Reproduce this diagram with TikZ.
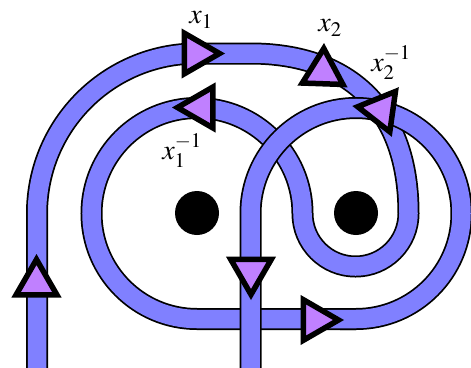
\documentclass[tikz,border=0pt]{standalone}
\usepackage{mathptmx}
\usetikzlibrary{shapes.geometric}
\definecolor{bandblue}{RGB}{128,128,255}
\definecolor{trifill}{RGB}{192,128,255}
\begin{document}
\begin{tikzpicture}[x=1pt,y=-1pt,
  band/.style={draw=black,line width=1.75pt,double=bandblue,double distance=18.5pt},
  tri/.style={regular polygon,regular polygon sides=3,draw=black,fill=trifill,line width=5.5pt,minimum size=47pt,inner sep=0pt,outer sep=0pt,miter limit=10},
  lab/.style={font=\fontsize{28}{30}\selectfont,inner sep=0pt},
  dot/.style={circle,fill=black,minimum size=44pt,inner sep=0pt}]
\useasboundingbox (0,0) rectangle (471,367);
% first part of the band: outer arc, x2 curve, U, left circle, bottom line
\draw[band] (37,372) -- (37,213.5) arc[start angle=180,end angle=270,radius=160]
  -- (250,53.5) .. controls (350,53.5) and (408.5,110) .. (408.5,213.5)
  arc[start angle=0,end angle=180,radius=53]
  arc[start angle=360,end angle=90,radius=105.5] -- (356,319);
% second part: right circle and vertical down (overlaps the joint)
\draw[band] (340,319) -- (356,319) arc[start angle=90,end angle=-180,radius=105.5] -- (250.5,372);
% punctures
\node[dot] (d1) at (197,213) {};
\node[dot] (d2) at (356,213) {};
% arrows
\node[tri,rotate=-90] (t1) at (196,53.5) {};
\node[tri,rotate=90] (t1i) at (201,107.5) {};
\node[tri,rotate=-2] (t2) at (323,72) {};
\node[tri,rotate=82] (t2i) at (381,110) {};
\node[tri] (tu) at (36.5,283) {};
\node[tri,rotate=180] (td) at (251,271) {};
\node[tri,rotate=-90] (tr) at (315,320) {};
% labels
\node[lab] (l1) at (201,20) {$x_1$};
\node[lab] (l1i) at (182,151) {$x_1^{-1}$};
\node[lab] (l2) at (330,28) {$x_2$};
\node[lab] (l2i) at (391,63) {$x_2^{-1}$};
\end{tikzpicture}
\end{document}
